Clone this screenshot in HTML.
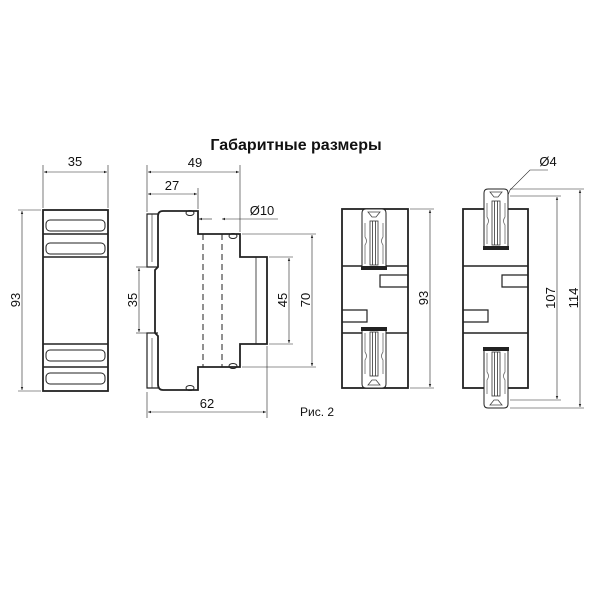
<!DOCTYPE html>
<html><head><meta charset="utf-8"><style>
html,body{margin:0;padding:0;background:#fff;width:600px;height:600px;overflow:hidden}
svg{display:block}
text{font-family:"Liberation Sans",sans-serif;fill:#111}
</style></head><body>
<svg width="600" height="600" viewBox="0 0 600 600" xmlns="http://www.w3.org/2000/svg">
<defs>
<marker id="a" viewBox="0 0 10 10" refX="10" refY="5" markerWidth="7" markerHeight="5" orient="auto-start-reverse"><path d="M0,1 L10,5 L0,9z" fill="#222"/></marker>
<g id="clip">
<path d="M1,58 L1,4 Q1,0 5,0 L21,0 Q25,0 25,4 L25,58 Z" fill="#fff" stroke="#222" stroke-width="1"/>
<path d="M7,3 L19,3 L15,8 L11,8 Z" fill="none" stroke="#444" stroke-width="0.8"/>
<rect x="9" y="12" width="8" height="44" fill="none" stroke="#333" stroke-width="0.8"/>
<line x1="11.5" y1="12" x2="11.5" y2="56" stroke="#333" stroke-width="0.8"/>
<line x1="14.5" y1="12" x2="14.5" y2="56" stroke="#333" stroke-width="0.8"/>
<path d="M4,14 L4,28 Q7,32 4,36 L4,55" fill="none" stroke="#555" stroke-width="0.7"/>
<path d="M22,14 L22,28 Q19,32 22,36 L22,55" fill="none" stroke="#555" stroke-width="0.7"/>
<rect x="0" y="57" width="26" height="4" fill="#222"/>
</g>
</defs>
<text x="296" y="150" font-size="16" font-weight="bold" text-anchor="middle">Габаритные размеры</text>

<g stroke="#222" fill="none" stroke-width="1">
<rect x="43" y="210" width="65" height="181" stroke-width="1.8"/>
<line x1="43" y1="234" x2="108" y2="234" stroke-width="1.5"/>
<line x1="43" y1="257" x2="108" y2="257" stroke-width="1.5"/>
<line x1="43" y1="344" x2="108" y2="344" stroke-width="1.5"/>
<line x1="43" y1="367" x2="108" y2="367" stroke-width="1.5"/>
<rect x="46" y="220" width="59" height="11" rx="4"/>
<rect x="46" y="243" width="59" height="11" rx="4"/>
<rect x="46" y="350" width="59" height="11" rx="4"/>
<rect x="46" y="373" width="59" height="11" rx="4"/>
<line x1="43" y1="165" x2="43" y2="208" stroke-width="0.6"/>
<line x1="108" y1="165" x2="108" y2="208" stroke-width="0.6"/>
<line x1="44" y1="172" x2="107" y2="172" stroke-width="0.6" marker-start="url(#a)" marker-end="url(#a)"/>
<line x1="18" y1="210" x2="41" y2="210" stroke-width="0.6"/>
<line x1="18" y1="391" x2="41" y2="391" stroke-width="0.6"/>
<line x1="22" y1="211" x2="22" y2="390" stroke-width="0.6" marker-start="url(#a)" marker-end="url(#a)"/>

<path d="M163,211 L198,211 L198,234 L240,234 L240,257 L267,257 L267,344 L240,344 L240,367 L198,367 L198,390 L163,390 Q158,390 158,384 L158,336 L155,333 L155,270 L158,267 L158,216 Q158,211 163,211 Z" stroke-width="1.8"/>
<path d="M158,214 L147,214 L147,267 L158,267" stroke-width="1.2"/>
<path d="M158,333 L147,333 L147,388 L158,388" stroke-width="1.2"/>
<line x1="152" y1="214" x2="152" y2="262" stroke-width="0.6"/>
<line x1="152" y1="338" x2="152" y2="388" stroke-width="0.6"/>
<line x1="256" y1="257" x2="256" y2="344" stroke-width="0.8"/>
<line x1="203" y1="234" x2="203" y2="367" stroke-dasharray="6,4"/>
<line x1="222" y1="234" x2="222" y2="367" stroke-dasharray="6,4"/>
<ellipse cx="190" cy="213" rx="4" ry="2.5"/>
<ellipse cx="233" cy="236" rx="4" ry="2.5"/>
<ellipse cx="233" cy="366" rx="4" ry="2.5"/>
<ellipse cx="190" cy="388" rx="4" ry="2.5"/>
<line x1="147" y1="165" x2="147" y2="212" stroke-width="0.6"/>
<line x1="240" y1="165" x2="240" y2="232" stroke-width="0.6"/>
<line x1="198" y1="188" x2="198" y2="209" stroke-width="0.6"/>
<line x1="148" y1="172" x2="239" y2="172" stroke-width="0.6" marker-start="url(#a)" marker-end="url(#a)"/>
<line x1="148" y1="194" x2="197" y2="194" stroke-width="0.6" marker-start="url(#a)" marker-end="url(#a)"/>
<line x1="199" y1="219" x2="212" y2="219" stroke-width="0.6" marker-start="url(#a)"/>
<line x1="222" y1="219" x2="278" y2="219" stroke-width="0.6" marker-start="url(#a)"/>
<line x1="242" y1="234" x2="316" y2="234" stroke-width="0.6"/>
<line x1="242" y1="367" x2="316" y2="367" stroke-width="0.6"/>
<line x1="269" y1="257" x2="293" y2="257" stroke-width="0.6"/>
<line x1="269" y1="344" x2="293" y2="344" stroke-width="0.6"/>
<line x1="312" y1="235" x2="312" y2="366" stroke-width="0.6" marker-start="url(#a)" marker-end="url(#a)"/>
<line x1="289" y1="258" x2="289" y2="343" stroke-width="0.6" marker-start="url(#a)" marker-end="url(#a)"/>
<line x1="136" y1="267" x2="152" y2="267" stroke-width="0.6"/>
<line x1="136" y1="333" x2="152" y2="333" stroke-width="0.6"/>
<line x1="139" y1="268" x2="139" y2="332" stroke-width="0.6" marker-start="url(#a)" marker-end="url(#a)"/>
<line x1="147" y1="392" x2="147" y2="418" stroke-width="0.6"/>
<line x1="267" y1="346" x2="267" y2="418" stroke-width="0.6"/>
<line x1="148" y1="412" x2="266" y2="412" stroke-width="0.6" marker-start="url(#a)" marker-end="url(#a)"/>

<rect x="342" y="209" width="66" height="179" stroke-width="1.8"/>
<line x1="342" y1="266" x2="408" y2="266" stroke-width="1.5"/>
<line x1="342" y1="333" x2="408" y2="333" stroke-width="1.5"/>
<path d="M408,275 L380,275 L380,287 L408,287" stroke-width="1.2"/>
<path d="M342,310 L367,310 L367,322 L342,322" stroke-width="1.2"/>
<line x1="410" y1="209" x2="434" y2="209" stroke-width="0.6"/>
<line x1="410" y1="388" x2="434" y2="388" stroke-width="0.6"/>
<line x1="430" y1="210" x2="430" y2="387" stroke-width="0.6" marker-start="url(#a)" marker-end="url(#a)"/>

<rect x="463" y="209" width="65" height="179" stroke-width="1.8"/>
<line x1="463" y1="266" x2="528" y2="266" stroke-width="1.5"/>
<line x1="463" y1="333" x2="528" y2="333" stroke-width="1.5"/>
<path d="M528,275 L502,275 L502,287 L528,287" stroke-width="1.2"/>
<path d="M463,310 L488,310 L488,322 L463,322" stroke-width="1.2"/>
<line x1="510" y1="189" x2="584" y2="189" stroke-width="0.6"/>
<line x1="510" y1="196" x2="561" y2="196" stroke-width="0.6"/>
<line x1="510" y1="400" x2="561" y2="400" stroke-width="0.6"/>
<line x1="510" y1="408" x2="584" y2="408" stroke-width="0.6"/>
<line x1="557" y1="197" x2="557" y2="399" stroke-width="0.6" marker-start="url(#a)" marker-end="url(#a)"/>
<line x1="580" y1="190" x2="580" y2="407" stroke-width="0.6" marker-start="url(#a)" marker-end="url(#a)"/>
<path d="M503,207 L508,195 L510,190 L530,170 L548,170" stroke-width="0.6"/>
</g>
<use href="#clip" x="361" y="209"/>
<use href="#clip" transform="translate(361,388) scale(1,-1)"/>
<use href="#clip" x="483" y="189"/>
<use href="#clip" transform="translate(483,408) scale(1,-1)"/>

<g font-size="13">
<text x="75" y="166" text-anchor="middle">35</text>
<text x="195" y="167" text-anchor="middle">49</text>
<text x="172" y="190" text-anchor="middle">27</text>
<text x="262" y="215" text-anchor="middle">Ø10</text>
<text x="207" y="408" text-anchor="middle">62</text>
<text x="300" y="416" font-size="12">Рис. 2</text>
<text x="548" y="166" text-anchor="middle">Ø4</text>
<text transform="translate(20,300) rotate(-90)" text-anchor="middle">93</text>
<text transform="translate(137,300) rotate(-90)" text-anchor="middle">35</text>
<text transform="translate(287,300) rotate(-90)" text-anchor="middle">45</text>
<text transform="translate(310,300) rotate(-90)" text-anchor="middle">70</text>
<text transform="translate(428,298) rotate(-90)" text-anchor="middle">93</text>
<text transform="translate(555,298) rotate(-90)" text-anchor="middle">107</text>
<text transform="translate(578,298) rotate(-90)" text-anchor="middle">114</text>
</g>
</svg>
</body></html>
